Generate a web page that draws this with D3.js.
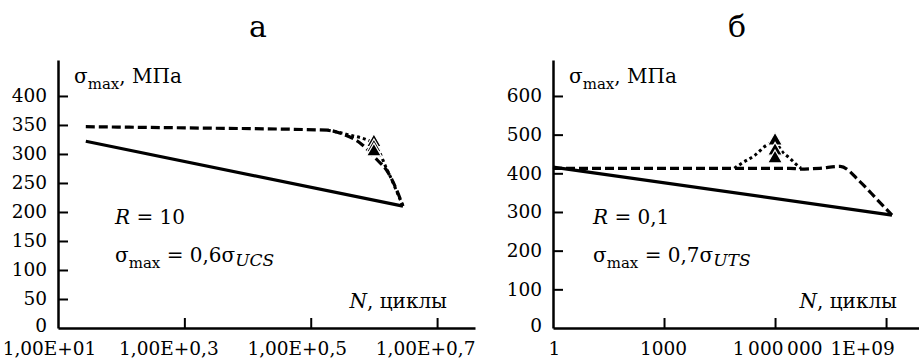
<!DOCTYPE html>
<html><head><meta charset="utf-8">
<script src="https://cdn.jsdelivr.net/npm/d3@7"></script>
<style>
body{margin:0;background:#fff;}
</style></head>
<body><svg id="c" width="919" height="359"></svg>
<script>
// ---- Panel а (R = 10) ----
const aXTicks = [1e1, 1e3, 1e5, 1e7];
const aXLabels = ["1,00E+01", "1,00E+0,3", "1,00E+0,5", "1,00E+0,7"];
const aYTicks = [0, 50, 100, 150, 200, 250, 300, 350, 400];
const aSolidN = [10**1.44, 10**6.46];
const aSolidS = [322, 210];
const aDashN = [10**1.44, 10**3, 10**5.27, 10**5.46, 10**5.78, 10**6.05, 10**6.2, 10**6.36, 10**6.46];
const aDashS = [347, 345, 341, 336, 319, 290, 272, 238, 210];
const aDotN = [10**5.27, 10**5.6, 10**6.0, 10**6.2, 10**6.46];
const aDotS = [341, 333, 318, 275, 210];
const aTriN = [1e6, 1e6, 1e6];
const aTriS = [320, 311, 304];

// ---- Panel б (R = 0,1) ----
const bXTicks = [1, 1e3, 1e6, 1e9];
const bXLabels = ["1", "1000", "1\u2009000\u2009000", "1E+09"];
const bYTicks = [0, 100, 200, 300, 400, 500, 600];
const bSolidN = [1, 10**9.16];
const bSolidS = [416, 292];
const bDashN = [1, 10**3, 10**4.9, 10**6.4, 10**6.68, 10**7.2, 10**7.76, 10**8.3, 10**8.76, 10**9.16];
const bDashS = [413, 413, 413, 413, 411, 413, 418, 378, 332, 292];
const bDotN = [10**4.9, 10**5.1, 10**5.46, 10**5.78, 10**6.0, 10**6.2, 10**6.4, 10**6.54, 10**6.7];
const bDotS = [413, 426, 447, 473, 480, 455, 439, 426, 413];
const bTriN = [1e6, 1e6, 1e6];
const bTriS = [484, 458, 438];

const svg = d3.select("#c");
const FS = 18.5;   // tick labels
const AS = 20;     // annotations
const FONT = "DejaVu Serif";

function panel(cfg){
  const g = svg.append("g").attr("font-family", FONT);
  const x = d3.scaleLog().domain(cfg.xDomain).range([cfg.x0, cfg.x1]);
  const y = d3.scaleLinear().domain(cfg.yDomain).range([328, 60]);
  const ya = g.append("g").attr("transform", `translate(${cfg.x0},0)`)
    .call(d3.axisLeft(y).tickValues(cfg.yTicks).tickSizeInner(-10).tickSizeOuter(0).tickPadding(11).tickFormat(d3.format("d")));
  const xa = g.append("g").attr("transform", `translate(0,328)`)
    .call(d3.axisBottom(x).tickValues(cfg.xTicks).tickSizeInner(-10).tickSizeOuter(0).tickPadding(14)
      .tickFormat((d,i)=>cfg.xLabels[i]));
  [ya, xa].forEach(a=>{
    a.attr("font-family", FONT).attr("font-size", FS);
    a.selectAll("path.domain").attr("stroke","#000").attr("stroke-width",2.5);
    a.selectAll(".tick line").attr("stroke","#000").attr("stroke-width",2);
    a.selectAll("text").attr("fill","#000").attr("font-family", FONT);
  });
  xa.selectAll(".tick").filter(v=>v===cfg.xTicks[0]).select("line").remove();
  xa.selectAll(".tick text").attr("dx",(d,i)=>cfg.xDx[i]);
  ya.selectAll(".tick").filter(v=>v===0).select("line").remove();
  ya.selectAll(".tick").filter(v=>v===0).select("text").attr("dy","0.2em");

  const line = d3.line().x(d=>x(d[0])).y(d=>y(d[1])).curve(d3.curveMonotoneX);
  const zip=(a,b)=>a.map((v,i)=>[v,b[i]]);
  g.append("path").datum(zip(cfg.solidN,cfg.solidS)).attr("d",line)
    .attr("fill","none").attr("stroke","#000").attr("stroke-width",3.2);
  g.append("path").datum(zip(cfg.dotN,cfg.dotS)).attr("d",line)
    .attr("fill","none").attr("stroke","#000").attr("stroke-width",3).attr("stroke-dasharray","3,3");
  g.append("path").datum(zip(cfg.dashN,cfg.dashS)).attr("d",line)
    .attr("fill","none").attr("stroke","#000").attr("stroke-width",3.2).attr("stroke-dasharray","9,4");
  const tri = d3.symbol().type(d3.symbolTriangle).size(95);
  g.selectAll("path.tri").data(zip(cfg.triN,cfg.triS)).join("path").attr("class","tri")
    .attr("d",tri).attr("transform",d=>`translate(${x(d[0])},${y(d[1])})`)
    .attr("fill","#000").attr("stroke","#fff").attr("stroke-width",1.2);

  g.append("text").attr("x",cfg.titleX).attr("y",37).attr("text-anchor","middle")
    .attr("font-size",30).text(cfg.title);
  const yl = g.append("text").attr("x",cfg.x0+16).attr("y",83).attr("font-size",AS);
  yl.append("tspan").text("σ");
  yl.append("tspan").attr("dy",6).attr("font-size",15).text("max");
  yl.append("tspan").attr("dy",-6).text(", МПа");
  const r = g.append("text").attr("x",cfg.annX).attr("y",224).attr("font-size",AS);
  r.append("tspan").attr("font-style","italic").text("R");
  r.append("tspan").text(" = "+cfg.R);
  const s = g.append("text").attr("x",cfg.annX).attr("y",262).attr("font-size",AS);
  s.append("tspan").text("σ");
  s.append("tspan").attr("dy",6).attr("font-size",15).text("max");
  s.append("tspan").attr("dy",-6).text(" = "+cfg.coef+"σ");
  s.append("tspan").attr("dy",4).attr("font-size",17).attr("font-style","italic").text(cfg.sub);
  const n = g.append("text").attr("x",cfg.nX).attr("y",308).attr("text-anchor","end").attr("font-size",AS);
  n.append("tspan").attr("font-style","italic").text("N");
  n.append("tspan").text(", циклы");
}

panel({x0:58, x1:475, xDomain:[10, 10**7.6], yDomain:[0,462],
  xTicks:aXTicks, xLabels:aXLabels, xDx:[-9,-16,-14,-12], yTicks:aYTicks,
  solidN:aSolidN, solidS:aSolidS, dashN:aDashN, dashS:aDashS, dotN:aDotN, dotS:aDotS, triN:aTriN, triS:aTriS,
  title:"а", titleX:258, annX:115, R:"10", coef:"0,6", sub:"UCS", nX:447});
panel({x0:553, x1:919, xDomain:[1, 10**9.89], yDomain:[0,693],
  xTicks:bXTicks, xLabels:bXLabels, xDx:[1,-1,2,-24], yTicks:bYTicks,
  solidN:bSolidN, solidS:bSolidS, dashN:bDashN, dashS:bDashS, dotN:bDotN, dotS:bDotS, triN:bTriN, triS:bTriS,
  title:"б", titleX:737, annX:593, R:"0,1", coef:"0,7", sub:"UTS", nX:897});
</script></body></html>
